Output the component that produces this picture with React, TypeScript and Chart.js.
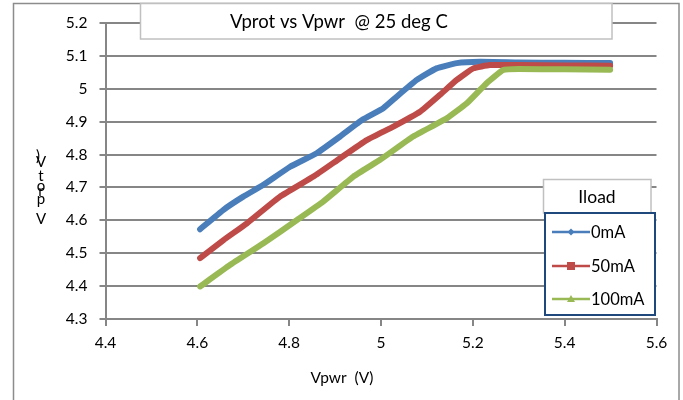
import React, { useEffect, useRef } from "react";
import { Chart, registerables } from "chart.js";

Chart.register(...registerables);

// ---- data ----
const seriesNames = ["0mA", "50mA", "100mA"];
const seriesColors = ["#4A7EBB", "#BE4B48", "#98B954"];

const vpwr0 = [4.606, 4.657, 4.700, 4.744, 4.802, 4.860, 4.911, 4.961, 5.005, 5.034, 5.078, 5.121, 5.165, 5.216, 5.300, 5.400, 5.499];
const vprot0 = [4.573, 4.632, 4.672, 4.708, 4.763, 4.804, 4.855, 4.907, 4.941, 4.976, 5.027, 5.062, 5.078, 5.082, 5.080, 5.079, 5.078];

const vpwr50 = [4.606, 4.657, 4.708, 4.780, 4.853, 4.911, 4.969, 5.027, 5.085, 5.128, 5.165, 5.201, 5.237, 5.300, 5.400, 5.499];
const vprot50 = [4.485, 4.540, 4.591, 4.672, 4.733, 4.789, 4.844, 4.885, 4.930, 4.981, 5.027, 5.062, 5.072, 5.072, 5.071, 5.070];

const vpwr100 = [4.606, 4.671, 4.744, 4.817, 4.874, 4.940, 4.998, 5.070, 5.143, 5.187, 5.230, 5.266, 5.300, 5.400, 5.499];
const vprot100 = [4.399, 4.464, 4.530, 4.601, 4.657, 4.733, 4.784, 4.855, 4.910, 4.956, 5.017, 5.057, 5.060, 5.059, 5.058];

const xTickValues = [4.4, 4.6, 4.8, 5.0, 5.2, 5.4, 5.6];
const xTickLabels = ["4.4", "4.6", "4.8", "5", "5.2", "5.4", "5.6"];
const yTickValues = [4.3, 4.4, 4.5, 4.6, 4.7, 4.8, 4.9, 5.0, 5.1, 5.2];
const yTickLabels = ["4.3", "4.4", "4.5", "4.6", "4.7", "4.8", "4.9", "5", "5.1", "5.2"];

const titleText = "Vprot vs Vpwr  @ 25 deg C";
const xTitle = "Vpwr  (V)";
const yTitleChars = [")", "V", "t", "o", "r", "p", "V"];
const legendTitle = "Iload";

const FONT = "Lato, 'Open Sans', sans-serif";

function toPoints(xs: number[], ys: number[]) {
  return xs.map((x, i) => ({ x, y: ys[i] }));
}

const decorPlugin = {
  id: "decor",
  beforeDraw(chart: any) {
    const ctx = chart.ctx;
    ctx.save();
    ctx.fillStyle = "#ffffff";
    ctx.fillRect(0, 0, chart.width, chart.height);
    ctx.restore();
  },
  afterDraw(chart: any) {
    const ctx = chart.ctx;
    ctx.save();
    // outer border
    ctx.strokeStyle = "#8c8c8c";
    ctx.lineWidth = 1.5;
    ctx.strokeRect(13.5, 3.5, 665.5, 400);

    // title box
    ctx.fillStyle = "#ffffff";
    ctx.fillRect(140, 3, 472, 36);
    ctx.strokeStyle = "#c0c0c0";
    ctx.lineWidth = 1.5;
    ctx.strokeRect(140.5, 3.5, 471.5, 35.5);
    ctx.fillStyle = "#000000";
    ctx.font = "18.5px " + FONT;
    ctx.textBaseline = "middle";
    ctx.textAlign = "left";
    ctx.fillText(titleText, 230, 22);

    // x title
    ctx.font = "15.5px " + FONT;
    ctx.textAlign = "center";
    ctx.fillText(xTitle, 342, 378);

    // y title stacked characters
    const ys = [156, 162, 176, 186, 191, 199, 219];
    ctx.font = "15px " + FONT;
    yTitleChars.forEach((c, i) => {
      ctx.fillText(c, i === 0 ? 38 : 41, ys[i]);
    });

    // legend title box
    ctx.fillStyle = "#ffffff";
    ctx.fillRect(543, 179, 108, 34);
    ctx.strokeStyle = "#c0c0c0";
    ctx.lineWidth = 1.5;
    ctx.strokeRect(543.5, 179.5, 107.5, 33.5);
    ctx.fillStyle = "#000000";
    ctx.font = "17.5px " + FONT;
    ctx.textAlign = "center";
    ctx.fillText(legendTitle, 597, 197);

    // legend box
    ctx.fillStyle = "#ffffff";
    ctx.fillRect(545, 213, 110, 102);
    ctx.strokeStyle = "#1F497D";
    ctx.lineWidth = 2;
    ctx.strokeRect(545, 213, 110, 102);

    const rowY = [232, 266, 299];
    seriesNames.forEach((name, i) => {
      const y = rowY[i];
      ctx.strokeStyle = seriesColors[i];
      ctx.lineWidth = 2.5;
      ctx.beginPath();
      ctx.moveTo(552, y);
      ctx.lineTo(590, y);
      ctx.stroke();
      ctx.fillStyle = seriesColors[i];
      ctx.beginPath();
      if (i === 0) {
        ctx.moveTo(571, y - 3.5);
        ctx.lineTo(574.5, y);
        ctx.lineTo(571, y + 3.5);
        ctx.lineTo(567.5, y);
      } else if (i === 1) {
        ctx.rect(567, y - 4, 8, 8);
      } else {
        ctx.moveTo(571, y - 4);
        ctx.lineTo(575, y + 3);
        ctx.lineTo(567, y + 3);
      }
      ctx.closePath();
      ctx.fill();
      ctx.fillStyle = "#000000";
      ctx.font = "16.5px " + FONT;
      ctx.textAlign = "left";
      ctx.fillText(name, 591, y + 1);
    });
    ctx.restore();
  },
};

export default function App() {
  const ref = useRef<HTMLCanvasElement | null>(null);
  useEffect(() => {
    if (!ref.current) return;
    const chart = new Chart(ref.current, {
      type: "line",
      data: {
        datasets: [
          { label: seriesNames[0], data: toPoints(vpwr0, vprot0), borderColor: seriesColors[0], order: 2 },
          { label: seriesNames[1], data: toPoints(vpwr50, vprot50), borderColor: seriesColors[1], order: 1 },
          { label: seriesNames[2], data: toPoints(vpwr100, vprot100), borderColor: seriesColors[2], order: 0 },
        ].map((d) => ({
          ...d,
          borderWidth: 6,
          pointRadius: 0,
          tension: 0.12,
          borderCapStyle: "round" as const,
          borderJoinStyle: "round" as const,
          fill: false,
        })),
      },
      options: {
        animation: false,
        responsive: false,
        devicePixelRatio: 1,
        layout: { padding: { left: 0, right: 26.5, top: 23, bottom: 0 } },
        plugins: { legend: { display: false }, tooltip: { enabled: false }, title: { display: false } },
        scales: {
          x: {
            type: "linear",
            min: 4.4,
            max: 5.6,
            afterBuildTicks: (s: any) => {
              s.ticks = xTickValues.map((v) => ({ value: v }));
            },
            afterFit: (s: any) => {
              s.height = 81;
            },
            ticks: {
              autoSkip: false,
              maxRotation: 0,
              padding: 8,
              color: "#000000",
              font: { family: FONT, size: 15.5 },
              callback: (v: any) => {
                const i = xTickValues.findIndex((t) => Math.abs(t - Number(v)) < 1e-6);
                return i >= 0 ? xTickLabels[i] : "";
              },
            },
            grid: { drawOnChartArea: false, drawTicks: true, tickLength: 7, color: "#868686", lineWidth: 2 },
            border: { display: true, color: "#868686", width: 2 },
          },
          y: {
            type: "linear",
            min: 4.3,
            max: 5.2,
            afterBuildTicks: (s: any) => {
              s.ticks = yTickValues.map((v) => ({ value: v }));
            },
            afterFit: (s: any) => {
              s.width = 105.5;
            },
            ticks: {
              autoSkip: false,
              padding: 12,
              color: "#000000",
              font: { family: FONT, size: 15.5 },
              callback: (v: any) => {
                const i = yTickValues.findIndex((t) => Math.abs(t - Number(v)) < 1e-6);
                return i >= 0 ? yTickLabels[i] : "";
              },
            },
            grid: { drawOnChartArea: true, drawTicks: true, tickLength: 6, color: "#868686", lineWidth: 2 },
            border: { display: true, color: "#868686", width: 2 },
          },
        },
      },
      plugins: [decorPlugin],
    });
    return () => chart.destroy();
  }, []);
  return (
    <div style={{ position: "absolute", left: 0, top: 0, width: 683, height: 400 }}>
      <canvas ref={ref} width={683} height={400} style={{ width: 683, height: 400 }} />
    </div>
  );
}
